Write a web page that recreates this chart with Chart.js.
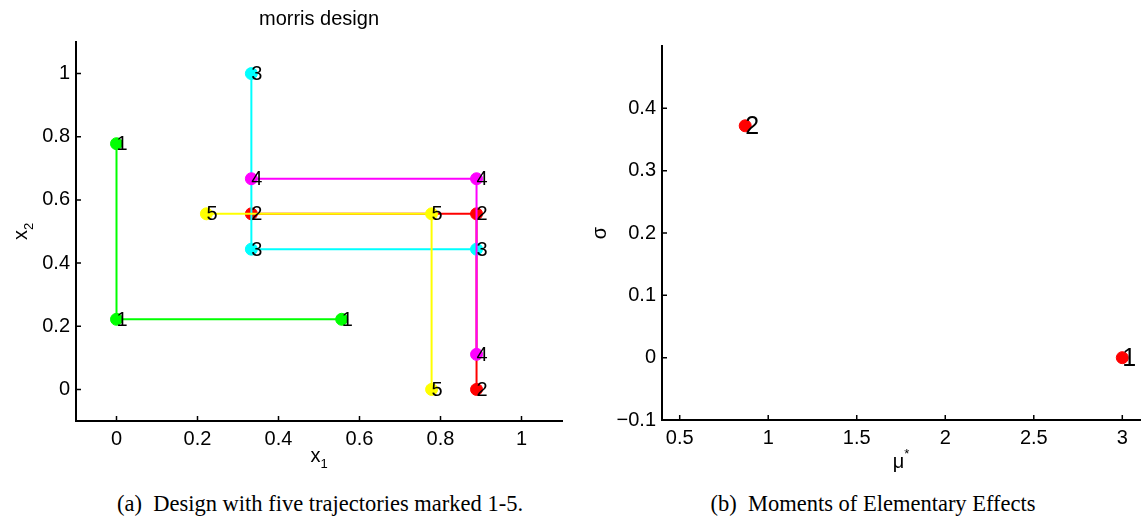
<!DOCTYPE html>
<html>
<head>
<meta charset="utf-8">
<script src="https://cdn.jsdelivr.net/npm/chart.js@4.4.0/dist/chart.umd.min.js"></script>
<style>
  body { margin: 0; background: #fff; width: 1147px; height: 520px; overflow: hidden; position: relative; }
  .box { position: absolute; top: 0; height: 480px; }
  #boxA { left: 0; width: 580px; }
  #boxB { left: 580px; width: 567px; }
  .cap { position: absolute; top: 491px; white-space: nowrap; transform: translateX(-50%);
         font-family: "Liberation Serif", "Times New Roman", serif; font-size: 22.5px; color: #000; }
</style>
</head>
<body>
<div class="box" id="boxA"><canvas id="design"></canvas></div>
<div class="box" id="boxB"><canvas id="moments"></canvas></div>
<div class="cap" style="left:320px">(a)&nbsp; Design with five trajectories marked 1-5.</div>
<div class="cap" style="left:873px">(b)&nbsp; Moments of Elementary Effects</div>
<script>
// left panel: five trajectories on the 4-level grid
var xTicksA = [0, 0.2, 0.4, 0.6, 0.8, 1];
var yTicksA = [0, 0.2, 0.4, 0.6, 0.8, 1];
var trajNames = ['1', '2', '3', '4', '5'];
var trajColors = ['#00ff00', '#ff0000', '#00ffff', '#ff00ff', '#ffff00'];
var traj1X = [0, 0, 0.556];
var traj1Y = [0.778, 0.222, 0.222];
var traj2X = [0.333, 0.889, 0.889];
var traj2Y = [0.556, 0.556, 0];
var traj3X = [0.333, 0.333, 0.889];
var traj3Y = [1, 0.444, 0.444];
var traj4X = [0.333, 0.889, 0.889];
var traj4Y = [0.667, 0.667, 0.111];
var traj5X = [0.222, 0.778, 0.778];
var traj5Y = [0.556, 0.556, 0];

// right panel: mu* / sigma per factor
var factorNames = ['1', '2'];
var muStar = [3, 0.87];
var sigma = [0, 0.372];
var xTicksB = [0.5, 1, 1.5, 2, 2.5, 3];
var yTicksB = [-0.1, 0, 0.1, 0.2, 0.3, 0.4];

var FONT = '"Liberation Sans", Arial, Helvetica, sans-serif';
Chart.defaults.font.family = FONT;
Chart.defaults.color = '#000';

function fmtTick(v) {
  return v < 0 ? '\u2212' + Math.abs(v) : String(v);
}

/** main text plus a small sub/superscript, centred on cx,cy */
function drawScript(ctx, main, small, shift, cx, cy, rot) {
  ctx.save();
  ctx.translate(cx, cy);
  ctx.rotate(rot);
  ctx.textBaseline = 'middle';
  ctx.textAlign = 'left';
  ctx.font = '20px ' + FONT;
  var w1 = ctx.measureText(main).width;
  ctx.font = '13px ' + FONT;
  var w2 = small ? ctx.measureText(small).width : 0;
  var x0 = -(w1 + w2) / 2;
  ctx.font = '20px ' + FONT;
  ctx.fillText(main, x0, 0);
  if (small) {
    ctx.font = '13px ' + FONT;
    ctx.fillText(small, x0 + w1, shift);
  }
  ctx.restore();
}

/** inward tick marks and axis titles, the way the original plot has them */
var axisDecor = {
  id: 'axisDecor',
  afterDraw: function(chart, args, opts) {
    var ctx = chart.ctx;
    var area = chart.chartArea;
    var xs = chart.scales.x, ys = chart.scales.y;
    ctx.save();
    ctx.strokeStyle = '#000';
    ctx.lineWidth = 1.5;
    ctx.beginPath();
    xs.ticks.forEach(function(t) {
      var px = xs.getPixelForValue(t.value);
      ctx.moveTo(px, area.bottom);
      ctx.lineTo(px, area.bottom - 5);
    });
    ys.ticks.forEach(function(t) {
      var py = ys.getPixelForValue(t.value);
      ctx.moveTo(area.left, py);
      ctx.lineTo(area.left + 5, py);
    });
    ctx.stroke();
    ctx.fillStyle = '#000';
    var t = opts.xTitle;
    drawScript(ctx, t[0], t[1], t[2], (area.left + area.right) / 2, opts.xTitleY, 0);
    t = opts.yTitle;
    drawScript(ctx, t[0], t[1], t[2], opts.yTitleX, (area.top + area.bottom) / 2, -Math.PI / 2);
    ctx.restore();
  }
};

/** number written next to every marker (text(x,y,'n') in the original) */
var pointText = {
  id: 'pointText',
  afterDatasetsDraw: function(chart, args, opts) {
    var ctx = chart.ctx;
    ctx.save();
    ctx.fillStyle = '#000';
    ctx.font = opts.size + 'px ' + FONT;
    ctx.textAlign = 'left';
    ctx.textBaseline = 'middle';
    chart.data.datasets.forEach(function(ds, i) {
      chart.getDatasetMeta(i).data.forEach(function(pt, j) {
        ctx.fillText(ds.pointText[j], pt.x, pt.y + 1);
      });
    });
    ctx.restore();
  }
};

function linearAxis(min, max, tickValues, fit) {
  return {
    type: 'linear',
    min: min,
    max: max,
    afterBuildTicks: function(s) {
      s.ticks = tickValues.map(function(v) { return {value: v}; });
    },
    afterFit: fit,
    ticks: {
      color: '#000',
      font: {size: 20},
      padding: 6,
      autoSkip: false,
      maxRotation: 0,
      callback: fmtTick
    },
    grid: {display: false, drawTicks: false},
    border: {display: true, color: '#000', width: 2}
  };
}

var trajX = [traj1X, traj2X, traj3X, traj4X, traj5X];
var trajY = [traj1Y, traj2Y, traj3Y, traj4Y, traj5Y];
var designSets = trajX.map(function(xs, k) {
  return {
    data: xs.map(function(x, j) { return {x: x, y: trajY[k][j]}; }),
    showLine: true,
    tension: 0,
    borderColor: trajColors[k],
    backgroundColor: trajColors[k],
    borderWidth: 2,
    pointRadius: 6,
    pointHoverRadius: 6,
    pointBorderWidth: 1,
    order: 5 - k,
    pointText: xs.map(function() { return trajNames[k]; })
  };
});

new Chart(document.getElementById('design'), {
  type: 'scatter',
  data: {datasets: designSets},
  options: {
    responsive: true,
    maintainAspectRatio: false,
    animation: false,
    events: [],
    layout: {padding: {top: 0, right: 18, left: 0, bottom: 0}},
    scales: {
      x: linearAxis(-0.1, 1.1, xTicksA, function(s) { s.height = 59; }),
      y: linearAxis(-0.1, 1.1, yTicksA, function(s) { s.width = 76; })
    },
    plugins: {
      legend: {display: false},
      tooltip: {enabled: false},
      title: {
        display: true,
        text: 'morris design',
        fullSize: false,
        color: '#000',
        font: {size: 20, weight: 'normal'},
        padding: {top: 7, bottom: 11}
      },
      pointText: {size: 20},
      axisDecor: {xTitle: ['x', '1', 8], xTitleY: 456, yTitle: ['x', '2', 8], yTitleX: 21}
    }
  },
  plugins: [pointText, axisDecor]
});

new Chart(document.getElementById('moments'), {
  type: 'scatter',
  data: {
    datasets: [{
      data: muStar.map(function(m, i) { return {x: m, y: sigma[i]}; }),
      borderColor: '#ff0000',
      backgroundColor: '#ff0000',
      pointRadius: 6,
      pointHoverRadius: 6,
      pointBorderWidth: 1,
      pointText: factorNames
    }]
  },
  options: {
    responsive: true,
    maintainAspectRatio: false,
    animation: false,
    events: [],
    layout: {padding: {top: 46, right: 5, left: 0, bottom: 0}},
    scales: {
      x: linearAxis(0.4, 3.1, xTicksB, function(s) { s.height = 60; }),
      y: linearAxis(-0.1, 0.5, yTicksB, function(s) { s.width = 82; })
    },
    plugins: {
      legend: {display: false},
      tooltip: {enabled: false},
      pointText: {size: 25},
      axisDecor: {xTitle: ['\u03bc', '*', -8], xTitleY: 462, yTitle: ['\u03c3', '', 0], yTitleX: 20}
    }
  },
  plugins: [pointText, axisDecor]
});
</script>
</body>
</html>
